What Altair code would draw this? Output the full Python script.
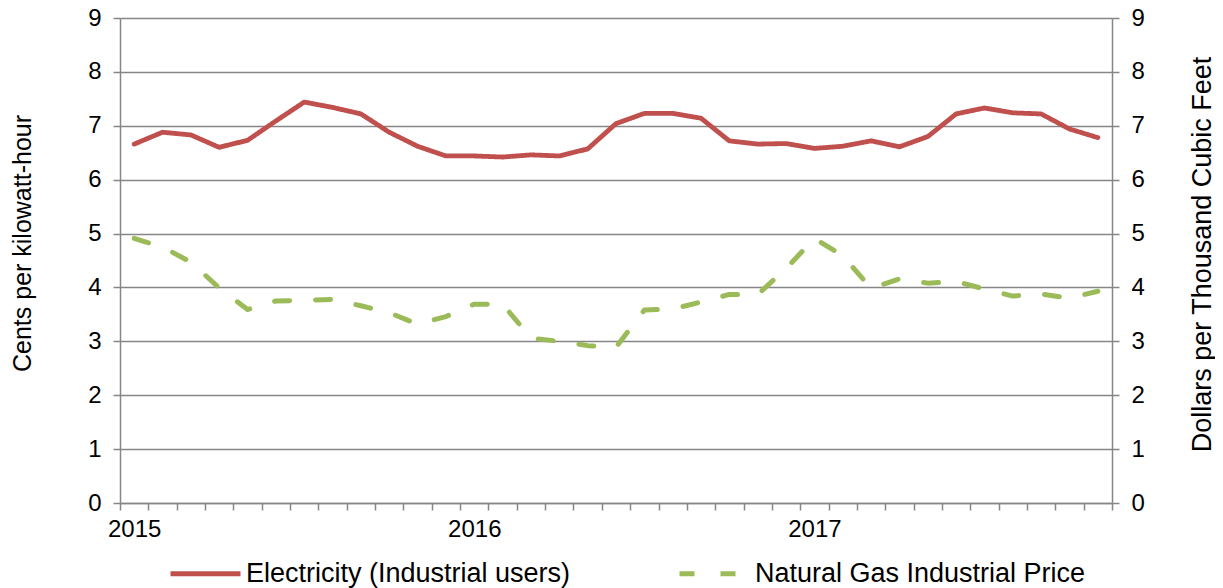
import altair as alt
import pandas as pd

# Monthly observations, Jan 2015 .. Nov 2017
months = [
    "2015-01", "2015-02", "2015-03", "2015-04", "2015-05", "2015-06", "2015-07", "2015-08", "2015-09", "2015-10", "2015-11", "2015-12",
    "2016-01", "2016-02", "2016-03", "2016-04", "2016-05", "2016-06", "2016-07", "2016-08", "2016-09", "2016-10", "2016-11", "2016-12",
    "2017-01", "2017-02", "2017-03", "2017-04", "2017-05", "2017-06", "2017-07", "2017-08", "2017-09", "2017-10", "2017-11",
]
electricity = [6.66, 6.88, 6.83, 6.60, 6.73, 7.09, 7.44, 7.34, 7.22, 6.88, 6.62, 6.44,
               6.44, 6.42, 6.46, 6.44, 6.57, 7.04, 7.23, 7.23, 7.14, 6.72, 6.66, 6.67,
               6.58, 6.62, 6.72, 6.61, 6.80, 7.22, 7.33, 7.24, 7.22, 6.94, 6.78]
natural_gas = [4.91, 4.75, 4.47, 3.99, 3.59, 3.75, 3.76, 3.78, 3.66, 3.53, 3.32, 3.46,
               3.69, 3.69, 3.06, 3.00, 2.92, 2.89, 3.58, 3.60, 3.73, 3.87, 3.87, 4.35,
               4.91, 4.59, 3.98, 4.16, 4.08, 4.11, 3.97, 3.84, 3.88, 3.80, 3.93]
series_names = ["Electricity (Industrial users)", "Natural Gas Industrial Price"]
series_colors = ["#C0504D", "#9BBB59"]
y_ticks = [0, 1, 2, 3, 4, 5, 6, 7, 8, 9]

df_e = pd.DataFrame({"month": months, "value": electricity, "series": series_names[0]})
df_g = pd.DataFrame({"month": months, "value": natural_gas, "series": series_names[1]})

FONT = "Liberation Sans"
GRAY = "#868686"

x_enc = alt.X(
    "month:O",
    sort=months,
    scale=alt.Scale(type="band", domain=months, paddingInner=0, paddingOuter=0),
    axis=alt.Axis(
        title=None, grid=False, tickBand="extent", tickSize=7, labelAngle=0,
        labelExpr="substring(datum.value, 5, 7) == '01' ? substring(datum.value, 0, 4) : ''",
        labelPadding=7, labelOverlap=False, labelFontSize=24,
    ),
)

legend = alt.Legend(
    title=None, orient="none", direction="horizontal", legendX=48, legendY=518,
    symbolType="stroke", symbolSize=4900, symbolStrokeWidth=5, labelFontSize=27,
    labelFont=FONT, labelColor="black", labelOffset=3, columnPadding=98,
    labelLimit=600, padding=0,
)
color_enc = alt.Color("series:N", scale=alt.Scale(domain=series_names, range=series_colors), legend=legend)
dash_enc = alt.StrokeDash("series:N", scale=alt.Scale(domain=series_names, range=[[1, 0], [15, 26]]), legend=legend)

left = alt.Chart(df_e).mark_line(strokeWidth=4.8, strokeCap="round", strokeJoin="round").encode(
    x=x_enc,
    y=alt.Y("value:Q", scale=alt.Scale(domain=[0, 9], nice=False),
            axis=alt.Axis(title="Cents per kilowatt-hour", values=y_ticks, grid=True, tickSize=7,
                          labelPadding=12, labelFontSize=24, titleFontSize=25, titleAngle=270,
                          titleX=-98, titleY=225, titleBaseline="middle", titleAlign="center")),
    color=color_enc,
    strokeDash=dash_enc,
)

right = alt.Chart(df_g).mark_line(strokeWidth=5, strokeCap="round", strokeJoin="round").encode(
    x=x_enc,
    y=alt.Y("value:Q", scale=alt.Scale(domain=[0, 9], nice=False),
            axis=alt.Axis(title="Dollars per Thousand Cubic Feet", orient="right", values=y_ticks,
                          grid=False, tickSize=7, labelPadding=12, labelFontSize=24, titleFontSize=27,
                          titleAngle=270, titleX=90, titleY=236, titleBaseline="middle", titleAlign="center")),
    color=color_enc,
    strokeDash=dash_enc,
)

chart = (
    alt.layer(left, right)
    .resolve_scale(y="independent")
    .properties(
        width=992, height=485,
        padding={"left": 112, "top": 10, "right": 103, "bottom": 85},
        autosize=alt.AutoSizeParams(type="none"),
        background="white",
    )
    .configure_view(stroke=None)
    .configure_axis(
        labelFont=FONT, titleFont=FONT, labelColor="black", titleColor="black",
        titleFontWeight="normal", domainColor=GRAY, tickColor=GRAY, gridColor=GRAY,
        domainWidth=1.5, tickWidth=1.5, gridWidth=1.5,
    )
)

chart.save("out.html", embed_options={"renderer": "svg", "actions": False})
